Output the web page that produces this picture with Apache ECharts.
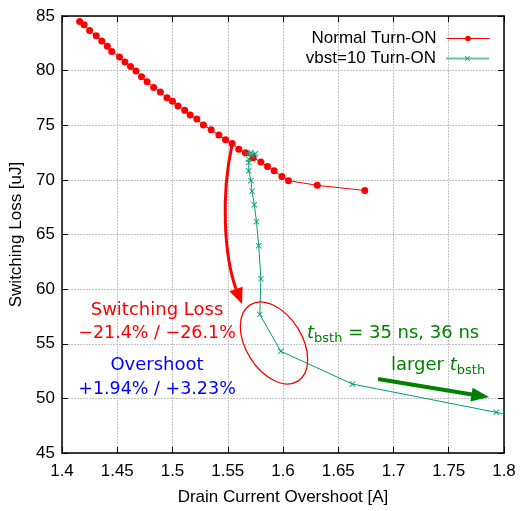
<!DOCTYPE html>
<html>
<head>
<meta charset="utf-8">
<script src="https://cdn.jsdelivr.net/npm/echarts@6/dist/echarts.min.js"></script>
<style>
  html, body { margin: 0; padding: 0; background: #fff; }
  #chart { width: 520px; height: 511px; }
</style>
</head>
<body>
<div id="chart"></div>
<script>
// axis ranges
var xMin = 1.4, xMax = 1.8, xStep = 0.05
var yMin = 45, yMax = 85, yStep = 5

// Normal Turn-ON
var normalCurrent = [1.416, 1.420, 1.425, 1.431, 1.436, 1.441, 1.445, 1.452, 1.457, 1.462,
  1.467, 1.472, 1.477, 1.483, 1.489, 1.495, 1.500, 1.505, 1.511, 1.516,
  1.522, 1.528, 1.535, 1.542, 1.548, 1.554, 1.560, 1.566, 1.573, 1.580,
  1.586, 1.592, 1.599, 1.605, 1.631, 1.674]
var normalLoss = [84.49, 84.19, 83.68, 83.20, 82.72, 82.24, 81.76, 81.25, 80.80, 80.38,
  79.96, 79.44, 78.99, 78.45, 78.04, 77.52, 77.19, 76.77, 76.38, 75.93,
  75.57, 75.03, 74.58, 74.10, 73.68, 73.32, 72.81, 72.48, 72.03, 71.64,
  71.22, 70.83, 70.32, 69.93, 69.50, 69.03]

// vbst=10 Turn-ON
var vbstCurrent = [1.567, 1.571, 1.575, 1.572, 1.569, 1.569, 1.569, 1.571, 1.572, 1.574,
  1.576, 1.578, 1.580, 1.579, 1.598, 1.663, 1.793, 1.820]
var vbstLoss = [72.40, 72.50, 72.40, 72.20, 71.90, 71.60, 70.83, 69.93, 68.96, 67.73,
  66.17, 63.98, 60.95, 57.68, 54.31, 51.31, 48.72, 48.10]

function zip(a, b) {
  return a.map(function (v, i) { return [v, b[i]] })
}

var chart = echarts.init(document.getElementById('chart'))

var fontMain = 'Liberation Sans, Arial, sans-serif'
var fontNote = 'DejaVu Sans, sans-serif'

// text width helper for the subscript labels
var ctx = document.createElement('canvas').getContext('2d')
function textW(str, size, italic) {
  ctx.font = (italic ? 'italic ' : '') + size + 'px DejaVu Sans'
  return ctx.measureText(str).width
}

// "t_bsth" style label pieces
function tLabel(prefix, suffix, left, baseline, color) {
  var big = 18, small = 13
  var items = []
  var x = left
  if (prefix) {
    items.push({ type: 'text', x: x, y: baseline, style: { text: prefix, font: big + 'px ' + fontNote, fill: color, align: 'left', verticalAlign: 'bottom' } })
    x += textW(prefix, big)
  }
  items.push({ type: 'text', x: x, y: baseline, style: { text: 't', font: 'italic ' + big + 'px ' + fontNote, fill: color, align: 'left', verticalAlign: 'bottom' } })
  x += textW('t', big, true)
  items.push({ type: 'text', x: x, y: baseline + 3, style: { text: 'bsth', font: small + 'px ' + fontNote, fill: color, align: 'left', verticalAlign: 'bottom' } })
  x += textW('bsth', small)
  if (suffix) {
    items.push({ type: 'text', x: x, y: baseline, style: { text: suffix, font: big + 'px ' + fontNote, fill: color, align: 'left', verticalAlign: 'bottom' } })
  }
  return items
}

var axisCommon = {
  type: 'value',
  axisLine: { show: true, onZero: false, lineStyle: { color: '#000', width: 1.5 } },
  axisTick: { show: true, inside: true, length: 6, lineStyle: { color: '#000' } }
}

var gridLine = { show: true, lineStyle: { color: '#c4c4c4', type: [2, 1], width: 1 } }

var notes = [
  // red curved arrow
  { type: 'bezierCurve', shape: { x1: 232, y1: 145, cpx1: 221, cpy1: 195, cpx2: 224, cpy2: 255, x2: 236, y2: 289 },
    style: { stroke: '#ff0000', lineWidth: 3, fill: null } },
  { type: 'polygon', shape: { points: [[242, 304], [229.4, 291.3], [242.6, 286.7]] }, style: { fill: '#ff0000' } },
  // red ellipse
  { type: 'ellipse', x: 274, y: 343, rotation: -58 * Math.PI / 180,
    shape: { cx: 0, cy: 0, rx: 45, ry: 28 }, style: { stroke: '#ff0000', lineWidth: 1.3, fill: null } },
  // green arrow
  { type: 'line', shape: { x1: 378, y1: 379, x2: 472, y2: 394.5 }, style: { stroke: '#008000', lineWidth: 4 } },
  { type: 'polygon', shape: { points: [[489, 397], [472.6, 387.8], [470.4, 401.6]] }, style: { fill: '#008000' } },
  // texts
  { type: 'text', x: 157, y: 310, style: { text: 'Switching Loss', font: '18px ' + fontNote, fill: '#ff0000', align: 'center', verticalAlign: 'middle' } },
  { type: 'text', x: 157, y: 333, style: { text: '\u221221.4% / \u221226.1%', font: '17.5px ' + fontNote, fill: '#ff0000', align: 'center', verticalAlign: 'middle' } },
  { type: 'text', x: 157, y: 365, style: { text: 'Overshoot', font: '18px ' + fontNote, fill: '#0000ff', align: 'center', verticalAlign: 'middle' } },
  { type: 'text', x: 157, y: 389, style: { text: '+1.94% / +3.23%', font: '17.5px ' + fontNote, fill: '#0000ff', align: 'center', verticalAlign: 'middle' } }
].concat(tLabel('', ' = 35 ns, 36 ns', 307, 342, '#008000'))
 .concat(tLabel('larger ', '', 391, 374, '#008000'))
 .map(function (el) { el.z = 20; return el })

var legendCommon = {
  right: 30, align: 'right', padding: 0,
  itemWidth: 43, itemHeight: 7,
  textStyle: { fontFamily: fontMain, fontSize: 17, color: '#000', padding: [0, 5, 0, 0] }
}

var opt = {
  animation: false,
  textStyle: { fontFamily: fontMain },
  grid: { left: 62, right: 16, top: 16, bottom: 52 },
  legend: [
    Object.assign({}, legendCommon, { data: ['Normal Turn-ON'], top: 30, lineStyle: { width: 1 } }),
    Object.assign({}, legendCommon, { data: ['vbst=10 Turn-ON'], top: 50, lineStyle: { width: 2, opacity: 0.6 } })
  ],
  xAxis: [
    Object.assign({}, axisCommon, {
      min: xMin, max: xMax, interval: xStep,
      name: 'Drain Current Overshoot [A]', nameLocation: 'middle', nameGap: 36,
      nameTextStyle: { fontFamily: fontMain, fontSize: 17, color: '#000' },
      axisLabel: { color: '#000', fontSize: 17, margin: 10, formatter: function (v) { return String(+v.toFixed(2)) } },
      splitLine: gridLine
    }),
    Object.assign({}, axisCommon, {
      position: 'top', min: xMin, max: xMax, interval: xStep,
      axisLabel: { show: false }, splitLine: { show: false }
    })
  ],
  yAxis: [
    Object.assign({}, axisCommon, {
      min: yMin, max: yMax, interval: yStep,
      name: 'Switching Loss [uJ]', nameLocation: 'middle', nameGap: 37,
      nameTextStyle: { fontFamily: fontMain, fontSize: 17, color: '#000' },
      axisLabel: { color: '#000', fontSize: 17, margin: 7 },
      splitLine: gridLine
    }),
    Object.assign({}, axisCommon, {
      position: 'right', min: yMin, max: yMax, interval: yStep,
      axisLabel: { show: false }, splitLine: { show: false }
    })
  ],
  series: [
    {
      name: 'Normal Turn-ON',
      type: 'line',
      data: zip(normalCurrent, normalLoss),
      symbol: 'circle',
      symbolSize: 7,
      itemStyle: { color: '#ff0000' },
      lineStyle: { color: '#ff0000', width: 1 },
      z: 3
    },
    {
      name: 'vbst=10 Turn-ON',
      type: 'line',
      data: zip(vbstCurrent, vbstLoss),
      symbol: 'path://M0,1L1,0L5,4L9,0L10,1L6,5L10,9L9,10L5,6L1,10L0,9L4,5Z',
      symbolSize: 6,
      itemStyle: { color: '#009e73' },
      lineStyle: { color: '#009e73', width: 1 },
      z: 4
    }
  ],
  graphic: notes
}

chart.setOption(opt)
</script>
</body>
</html>
